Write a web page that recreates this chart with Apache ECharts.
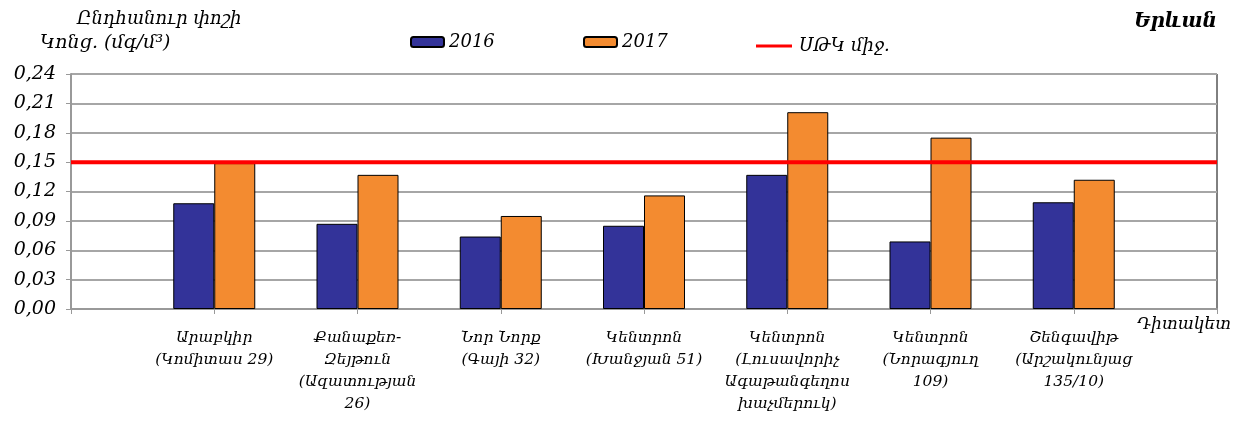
<!DOCTYPE html>
<html>
<head>
<meta charset="utf-8">
<script src="https://cdn.jsdelivr.net/npm/echarts@6/dist/echarts.min.js"></script>
<style>
html,body{margin:0;padding:0;background:#fff;}
#c{width:1239px;height:426px;}
</style>
</head>
<body>
<div id="c"></div>
<script>
// ---- data ----
const categories = [
  '',
  'Արաբկիր\n(Կոմիտաս 29)',
  'Քանաքեռ-\nԶեյթուն\n(Ազատության\n26)',
  'Նոր Նորք\n(Գայի 32)',
  'Կենտրոն\n(Խանջյան 51)',
  'Կենտրոն\n(Լուսավորիչ\nԱգաթանգեղոս\nխաչմերուկ)',
  'Կենտրոն\n(Նորագյուղ\n109)',
  'Շենգավիթ\n(Արշակունյաց\n135/10)',
  ''
];
const values2016 = ['-', 0.108, 0.087, 0.074, 0.085, 0.137, 0.069, 0.109, '-'];
const values2017 = ['-', 0.149, 0.137, 0.095, 0.116, 0.201, 0.175, 0.132, '-'];
const limitValues = [0.15, 0.15, 0.15, 0.15, 0.15, 0.15, 0.15, 0.15, 0.15];
const seriesNames = ['2016', '2017', 'ՍԹԿ միջ.'];
const yTickLabels = ['0,00','0,03','0,06','0,09','0,12','0,15','0,18','0,21','0,24'];
const yTitleLines = ['Ընդհանուր փոշի', 'Կոնց. (մգ/մ³)'];
const cityTitle = 'Երևան';
const xTitle = 'Դիտակետ';

const FONT = '"DejaVu Serif", "Liberation Serif", serif';
const chart = echarts.init(document.getElementById('c'), null, {renderer: 'canvas'});

const legendBase = {
  top: 28, itemWidth: 33, itemHeight: 10, itemGap: 6,
  textStyle: {fontFamily: FONT, fontStyle: 'italic', fontSize: 18, color: '#000'},
  selectedMode: false
};

chart.setOption({
  animation: false,
  backgroundColor: '#fff',
  grid: {left: 71, top: 74, right: 22, bottom: 117, show: true, borderColor: '#000', borderWidth: 1},
  legend: [
    Object.assign({}, legendBase, {left: 405, data: [seriesNames[0]]}),
    Object.assign({}, legendBase, {left: 578, data: [seriesNames[1]]}),
    Object.assign({}, legendBase, {left: 751, itemWidth: 36, itemHeight: 3, top: 32, data: [{name: seriesNames[2], icon: 'rect'}], textStyle: Object.assign({}, legendBase.textStyle, {padding: [0,0,0,2]})})
  ],
  xAxis: {
    type: 'category',
    data: categories,
    boundaryGap: false,
    axisLine: {lineStyle: {color: '#999', width: 2}},
    axisTick: {show: true, length: 5, alignWithLabel: true, lineStyle: {color: '#999'}},
    axisLabel: {interval: 0, margin: 18, fontFamily: FONT, fontStyle: 'italic', fontSize: 15.5, lineHeight: 22, color: '#000'},
    splitLine: {show: false}
  },
  yAxis: {
    type: 'value', min: 0, max: 0.24, interval: 0.03,
    axisLine: {show: true, lineStyle: {color: '#999', width: 2}},
    axisTick: {show: true, length: 5, lineStyle: {color: '#999'}},
    axisLabel: {
      margin: 15, fontFamily: FONT, fontStyle: 'italic', fontSize: 19, color: '#000',
      formatter: (v) => yTickLabels[Math.round(v / 0.03)]
    },
    splitLine: {show: true, lineStyle: {color: '#a6a6a6', width: 2}}
  },
  series: [
    {name: seriesNames[0], type: 'bar', data: values2016, barWidth: 41, barGap: '0%',
     itemStyle: {color: '#333399', borderColor: '#000', borderWidth: 1}},
    {name: seriesNames[1], type: 'bar', data: values2017, barWidth: 41, barGap: '0%',
     itemStyle: {color: '#F38B30', borderColor: '#000', borderWidth: 1}},
    {name: seriesNames[2], type: 'line', data: limitValues, symbol: 'none', z: 5,
     lineStyle: {color: '#FF0000', width: 4}, itemStyle: {color: '#FF0000'}}
  ],
  graphic: [
    {type: 'text', left: 77, top: 10, style: {text: yTitleLines[0], font: 'italic 18px ' + FONT, fill: '#000'}},
    {type: 'text', left: 40, top: 34, style: {text: yTitleLines[1], font: 'italic 19px ' + FONT, fill: '#000'}},
    {type: 'text', right: 22, top: 12, style: {text: cityTitle, font: 'italic bold 20px ' + FONT, fill: '#000'}},
    {type: 'text', right: 8, top: 316, style: {text: xTitle, font: 'italic 17px ' + FONT, fill: '#000'}}
  ]
});
</script>
</body>
</html>
